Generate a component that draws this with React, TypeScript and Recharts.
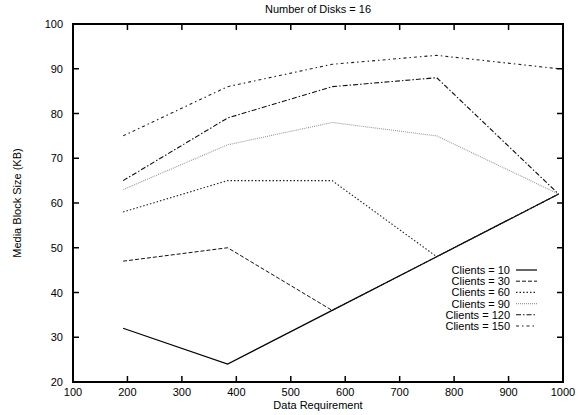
import { Label, Line, LineChart, XAxis, YAxis } from "recharts";

const dataRequirement = [192, 384, 576, 768, 992];
const clients10 = [32, 24, 36, 48, 62];
const clients30 = [47, 50, 36, 48, 62];
const clients60 = [58, 65, 65, 48, 62];
const clients90 = [63, 73, 78, 75, 62];
const clients120 = [65, 79, 86, 88, 62];
const clients150 = [75, 86, 91, 93, 90];

const xTicks = [100, 200, 300, 400, 500, 600, 700, 800, 900, 1000];
const yTicks = [20, 30, 40, 50, 60, 70, 80, 90, 100];

const font = "'Liberation Sans', Arial, sans-serif";

const CHART_W = 581;
const CHART_H = 415;
const MARGIN = { top: 24, right: 18, bottom: 0, left: 0 };
const Y_AXIS_W = 73;
const X_AXIS_H = 33;
const PLOT_W = CHART_W - MARGIN.left - MARGIN.right - Y_AXIS_W;
const PLOT_H = CHART_H - MARGIN.top - MARGIN.bottom - X_AXIS_H;
const TICK_LEN = 6;
const X_LABEL_GAP = 4;
const Y_LABEL_GAP = 10;

const series = [
  { key: "c10", name: "Clients = 10", values: clients10, color: "#000", dash: undefined, width: 1.2 },
  { key: "c30", name: "Clients = 30", values: clients30, color: "#111", dash: "4 2", width: 1 },
  { key: "c60", name: "Clients = 60", values: clients60, color: "#222", dash: "1.5 2", width: 1.1 },
  { key: "c90", name: "Clients = 90", values: clients90, color: "#999", dash: "1 1", width: 1.1 },
  { key: "c120", name: "Clients = 120", values: clients120, color: "#111", dash: "5 2 1.5 2", width: 1.1 },
  { key: "c150", name: "Clients = 150", values: clients150, color: "#222", dash: "3 3 1.5 3", width: 1.1 },
];

const rows = dataRequirement.map((x, i) => {
  const row: Record<string, number> = { x };
  series.forEach((s) => {
    row[s.key] = s.values[i];
  });
  return row;
});

// gnuplot-style: label outside, tick marks inward on both opposite sides
function XTick({ x, y, payload, index }: any) {
  const axisY = y - X_LABEL_GAP;
  const edge = index === 0 || index === xTicks.length - 1;
  return (
    <g>
      {!edge && (
        <>
          <path d={`M${x},${axisY}V${axisY - TICK_LEN}`} stroke="#000" strokeWidth={1.5} />
          <path d={`M${x},${axisY - PLOT_H}V${axisY - PLOT_H + TICK_LEN}`} stroke="#000" strokeWidth={1.5} />
        </>
      )}
      <text x={x} y={y + 10} textAnchor="middle" fontFamily={font} fontSize={11} fill="#000">
        {payload.value}
      </text>
    </g>
  );
}

function YTick({ x, y, payload, index }: any) {
  const axisX = x + Y_LABEL_GAP;
  const edge = index === 0 || index === yTicks.length - 1;
  return (
    <g>
      {!edge && (
        <>
          <path d={`M${axisX},${y}H${axisX + TICK_LEN}`} stroke="#000" strokeWidth={1.5} />
          <path d={`M${axisX + PLOT_W},${y}H${axisX + PLOT_W - TICK_LEN}`} stroke="#000" strokeWidth={1.5} />
        </>
      )}
      <text x={x} y={y + 4} textAnchor="end" fontFamily={font} fontSize={11} fill="#000">
        {payload.value}
      </text>
    </g>
  );
}

function ChartLegend() {
  return (
    <svg width={140} height={72} style={{ position: "absolute", left: 410, top: 262 }}>
      {series.map((s, i) => {
        const y = 8 + i * 11.2;
        return (
          <g key={s.key}>
            <text x={100} y={y + 4} textAnchor="end" fontFamily={font} fontSize={11} fill="#000">
              {s.name}
            </text>
            <line
              x1={106}
              x2={127}
              y1={y}
              y2={y}
              stroke={s.color}
              strokeWidth={s.width}
              strokeDasharray={s.dash}
            />
          </g>
        );
      })}
    </svg>
  );
}

export default function App() {
  const plotLeft = MARGIN.left + Y_AXIS_W;
  return (
    <div style={{ position: "absolute", left: 0, top: 0, width: CHART_W, height: CHART_H, background: "#fff" }}>
      <div
        style={{
          position: "absolute",
          left: plotLeft,
          width: PLOT_W,
          top: 3,
          textAlign: "center",
          fontFamily: font,
          fontSize: 11,
          color: "#000",
        }}
      >
        Number of Disks = 16
      </div>
      <LineChart width={CHART_W} height={CHART_H} data={rows} margin={MARGIN}>
        <XAxis
          dataKey="x"
          type="number"
          domain={[100, 1000]}
          ticks={xTicks}
          allowDataOverflow
          height={X_AXIS_H}
          tickSize={0}
          tickMargin={X_LABEL_GAP}
          tick={<XTick />}
          axisLine={false}
          tickLine={false}
        >
          <Label
            content={({ viewBox }: any) => (
              <text
                x={viewBox.x + viewBox.width / 2}
                y={viewBox.y + viewBox.height - 6}
                textAnchor="middle"
                fontFamily={font}
                fontSize={11}
                fill="#000"
              >
                Data Requirement
              </text>
            )}
          />
        </XAxis>
        <YAxis
          type="number"
          domain={[20, 100]}
          ticks={yTicks}
          allowDataOverflow
          width={Y_AXIS_W}
          tickSize={0}
          tickMargin={Y_LABEL_GAP}
          tick={<YTick />}
          axisLine={false}
          tickLine={false}
        >
          <Label
            content={({ viewBox }: any) => {
              const cx = viewBox.x + 21;
              const cy = viewBox.y + viewBox.height / 2;
              return (
                <text
                  x={cx}
                  y={cy}
                  transform={`rotate(-90 ${cx} ${cy})`}
                  textAnchor="middle"
                  fontFamily={font}
                  fontSize={11}
                  fill="#000"
                >
                  Media Block Size (KB)
                </text>
              );
            }}
          />
        </YAxis>
        {series.map((s) => (
          <Line
            key={s.key}
            dataKey={s.key}
            name={s.name}
            type="linear"
            stroke={s.color}
            strokeWidth={s.width}
            strokeDasharray={s.dash}
            dot={false}
            activeDot={false}
            isAnimationActive={false}
          />
        ))}
      </LineChart>
      {/* plot frame */}
      <svg
        width={CHART_W}
        height={CHART_H}
        style={{ position: "absolute", left: 0, top: 0, pointerEvents: "none" }}
      >
        <rect
          x={plotLeft}
          y={MARGIN.top}
          width={PLOT_W}
          height={PLOT_H}
          fill="none"
          stroke="#000"
          strokeWidth={2}
        />
      </svg>
      <ChartLegend />
    </div>
  );
}
